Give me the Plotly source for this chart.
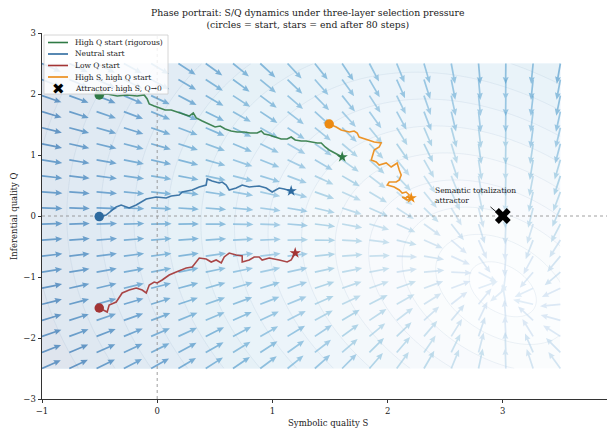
import numpy as np
import plotly.graph_objects as go

# ---------------- data ----------------
series_names = ["High Q start (rigorous)", "Neutral start", "Low Q start", "High S, high Q start"]
series_colors = ["#2f7a45", "#2d6a9f", "#a33434", "#ec8a12"]

green_S = [-0.503, -0.434, -0.347, -0.26, -0.174, -0.113, -0.087, -0.069, -0.026, 0.017, 0.069, 0.122,
           0.174, 0.234, 0.278, 0.313, 0.339, 0.391, 0.451, 0.503, 0.547, 0.590, 0.642, 0.694, 0.755,
           0.807, 0.868, 0.903, 0.929, 0.972, 1.024, 1.076, 1.128, 1.163, 1.198, 1.25, 1.293, 1.337,
           1.389, 1.424, 1.458, 1.493, 1.545, 1.606]
green_Q = [1.984, 2.0, 1.967, 1.984, 1.967, 1.984, 1.918, 1.836, 1.803, 1.770, 1.738, 1.738,
           1.705, 1.672, 1.639, 1.689, 1.607, 1.557, 1.508, 1.459, 1.475, 1.426, 1.393, 1.377, 1.377,
           1.361, 1.361, 1.393, 1.344, 1.328, 1.295, 1.262, 1.262, 1.295, 1.246, 1.230, 1.230, 1.213,
           1.197, 1.197, 1.131, 1.082, 1.033, 0.967]

blue_S = [-0.503, -0.443, -0.356, -0.313, -0.243, -0.182, -0.095, -0.009, 0.078, 0.122, 0.191, 0.217,
          0.304, 0.365, 0.425, 0.434, 0.477, 0.538, 0.564, 0.599, 0.625, 0.686, 0.738, 0.799, 0.885,
          0.946, 0.998, 1.059, 1.102, 1.163]
blue_Q = [-0.01, 0.016, 0.148, 0.18, 0.131, 0.18, 0.279, 0.311, 0.295, 0.328, 0.344, 0.393,
          0.426, 0.475, 0.508, 0.607, 0.574, 0.541, 0.557, 0.508, 0.426, 0.459, 0.508, 0.475, 0.492,
          0.459, 0.393, 0.459, 0.443, 0.41]

red_S = [-0.503, -0.434, -0.417, -0.356, -0.304, -0.243, -0.182, -0.130, -0.095, -0.069, -0.026, 0.0,
         0.043, 0.104, 0.165, 0.252, 0.304, 0.339, 0.365, 0.425, 0.469, 0.512, 0.556, 0.582, 0.625,
         0.686, 0.738, 0.738, 0.799, 0.842, 0.885, 0.911, 0.972, 1.059, 1.128, 1.163, 1.198]
red_Q = [-1.508, -1.574, -1.459, -1.41, -1.262, -1.213, -1.18, -1.213, -1.262, -1.131, -1.082, -1.098,
         -1.049, -0.967, -0.918, -0.852, -0.836, -0.754, -0.689, -0.705, -0.754, -0.721, -0.770, -0.672,
         -0.607, -0.639, -0.656, -0.754, -0.721, -0.672, -0.672, -0.721, -0.689, -0.721, -0.754, -0.721,
         -0.607]

orange_S = [1.493, 1.554, 1.597, 1.667, 1.710, 1.736, 1.753, 1.814, 1.884, 1.944, 1.927, 1.884, 1.866,
            1.858, 1.901, 1.927, 1.988, 2.031, 2.057, 2.083, 2.101, 2.118, 2.101, 2.075, 2.014, 1.997,
            2.057, 2.101, 2.127, 2.161, 2.188, 2.161, 2.127, 2.170, 2.205]
orange_Q = [1.508, 1.459, 1.41, 1.377, 1.393, 1.361, 1.295, 1.262, 1.213, 1.197, 1.131, 1.082, 0.967,
            0.918, 0.885, 0.836, 0.869, 0.803, 0.836, 0.869, 0.754, 0.672, 0.590, 0.557, 0.557, 0.508,
            0.475, 0.426, 0.377, 0.393, 0.344, 0.295, 0.311, 0.262, 0.295]

traj_S = [green_S, blue_S, red_S, orange_S]
traj_Q = [green_Q, blue_Q, red_Q, orange_Q]

attractor_S = [3.0]
attractor_Q = [0.0]
attractor_label = "Attractor: high S, Q\u21920"
annotation_text = "Semantic totalization<br>attractor"
title_text = ("Phase portrait: S/Q dynamics under three-layer selection pressure<br>"
              "(circles = start, stars = end after 80 steps)")
x_title = "Symbolic quality S"
y_title = "Inferential quality Q"

x_ticks = [-1, 0, 1, 2, 3]
y_ticks = [-3, -2, -1, 0, 1, 2, 3]

# vector field model (selection pressure toward high S)
S_grid = np.linspace(-1, 3.5, 20)
Q_grid = np.linspace(-2.5, 2.5, 20)
S_STAR = 3.0
Q_DRIFT = 0.075
Q_DAMP = 0.7


def field(S, Q):
    dS = S_STAR - S
    dQ = -Q_DAMP * (Q + Q_DRIFT * (S + 1) ** 2)
    return dS, dQ


# ---------------- layout geometry ----------------
# The page body has an 8px margin, so the figure is drawn 8px smaller and the
# pixel positions below are given in screenshot coordinates.
OFF = 8
W, H = 615 - OFF, 431 - OFF
PX0, PX1, PY0, PY1 = 42, 615, 33, 399          # plot area in screenshot pixels
ML, MR, MT, MB = PX0 - OFF, 615 - PX1, PY0 - OFF, 431 - PY1
PW, PH = PX1 - PX0, PY1 - PY0
X_RANGE = [-1, 3.974]
Y_RANGE = [-3, 3]
PXS = PW / (X_RANGE[1] - X_RANGE[0])
PYS = PH / (Y_RANGE[1] - Y_RANGE[0])


def px2paper(px, py):
    return (px - PX0) / PW, (PY1 - py) / PH


BLUES = [(0.0, (247, 251, 255)), (0.125, (222, 235, 247)), (0.25, (198, 219, 239)),
         (0.375, (158, 202, 225)), (0.5, (107, 174, 214)), (0.625, (66, 146, 198)),
         (0.75, (33, 113, 181)), (0.875, (8, 81, 156)), (1.0, (8, 48, 107))]


def blues(t):
    t = min(max(t, 0.0), 1.0)
    for (a, ca), (b, cb) in zip(BLUES[:-1], BLUES[1:]):
        if t <= b:
            f = (t - a) / (b - a)
            return tuple(ca[i] + f * (cb[i] - ca[i]) for i in range(3))
    return BLUES[-1][1]


FONT = "DejaVu Serif"
fig = go.Figure()

# background: speed magnitude
sf = np.linspace(-1, 3.5, 160)
qf = np.linspace(-2.5, 2.5, 160)
SS, QQ = np.meshgrid(sf, qf)
dSf, dQf = field(SS, QQ)
speed = np.hypot(dSf, dQf)
smax = speed.max()
BG_ALPHA = 0.13
cs = []
for i in range(11):
    t = i / 10
    c = blues(t)
    r, g, b = [255 * (1 - BG_ALPHA) + BG_ALPHA * c[k] for k in range(3)]
    cs.append([t, f"rgb({r:.0f},{g:.0f},{b:.0f})"])
fig.add_trace(go.Contour(x=sf, y=qf, z=speed, colorscale=cs, zmin=0, zmax=smax,
                         contours=dict(start=0, end=smax, size=smax / 15, coloring="fill"),
                         line=dict(width=0.6, color="rgba(120,150,190,0.2)"),
                         showscale=False, hoverinfo="skip"))

# quiver arrows (unit length in screen space, coloured by speed)
L, SW, HW, HL, HAL = 20.5, 1.7, 6.0, 7.0, 6.3
shape = [(0, -SW / 2), (L - HAL, -SW / 2), (L - HL, -HW / 2), (L, 0), (L - HL, HW / 2),
         (L - HAL, SW / 2), (0, SW / 2), (0, -SW / 2)]
NB = 14
bins = [([], []) for _ in range(NB)]
Sg, Qg = np.meshgrid(S_grid, Q_grid)
U, V = field(Sg, Qg)
M = np.hypot(U, V)
for s0, q0, u, v, m in zip(Sg.ravel(), Qg.ravel(), U.ravel(), V.ravel(), M.ravel()):
    th = np.arctan2(v, u)
    c, s = np.cos(th), np.sin(th)
    k = min(int(m / M.max() * NB), NB - 1)
    xs, ys = bins[k]
    for px, py in shape:
        rx, ry = px * c - py * s, px * s + py * c
        xs.append(s0 + rx / PXS)
        ys.append(q0 + ry / PYS)
    xs.append(None)
    ys.append(None)
for k, (xs, ys) in enumerate(bins):
    if not xs:
        continue
    t = (k + 0.5) / NB
    col = blues(0.18 + 0.66 * t)
    fig.add_trace(go.Scatter(x=xs, y=ys, mode="lines", fill="toself",
                             fillcolor=f"rgba({col[0]:.0f},{col[1]:.0f},{col[2]:.0f},0.6)",
                             line=dict(width=0), hoverinfo="skip", showlegend=False))

# reference dotted lines
fig.add_trace(go.Scatter(x=[0, 0], y=Y_RANGE, mode="lines",
                         line=dict(color="#888", width=0.8, dash="dot"), showlegend=False, hoverinfo="skip"))
fig.add_trace(go.Scatter(x=X_RANGE, y=[0, 0], mode="lines",
                         line=dict(color="#888", width=0.8, dash="dot"), showlegend=False, hoverinfo="skip"))

# trajectories
for name, col, xs, ys in zip(series_names, series_colors, traj_S, traj_Q):
    fig.add_trace(go.Scatter(x=xs, y=ys, mode="lines", name=name, showlegend=False,
                             line=dict(color=col, width=1.6), opacity=0.9))
for name, col, xs, ys in zip(series_names, series_colors, traj_S, traj_Q):
    fig.add_trace(go.Scatter(x=[xs[0]], y=[ys[0]], mode="markers", showlegend=False,
                             marker=dict(color=col, size=9.5, symbol="circle")))
    fig.add_trace(go.Scatter(x=[xs[-1]], y=[ys[-1]], mode="markers", showlegend=False,
                             marker=dict(color=col, size=8.5, symbol="star")))

fig.add_trace(go.Scatter(x=attractor_S, y=attractor_Q, mode="markers", name=attractor_label,
                         showlegend=False, marker=dict(color="black", size=14, symbol="x")))

fig.add_annotation(x=attractor_S[0] - 0.61, y=attractor_Q[0] + 0.33, text=annotation_text,
                   showarrow=False, xanchor="left", yanchor="middle", align="left",
                   font=dict(family=FONT, size=7.5, color="#222"))
fig.add_annotation(x=attractor_S[0] - 0.04, y=attractor_Q[0] + 0.04, ax=attractor_S[0] - 0.12,
                   ay=attractor_Q[0] + 0.17, axref="x", ayref="y", text="", showarrow=True,
                   arrowhead=0, arrowwidth=0.9, arrowcolor="#111")

# ---- manual compact legend (matplotlib style) ----
bx0, by0 = px2paper(44, 35)
bx1, by1 = px2paper(168, 94)
fig.add_shape(type="rect", xref="paper", yref="paper", x0=bx0, y0=by1, x1=bx1, y1=by0,
              line=dict(color="#cccccc", width=0.8), fillcolor="rgba(255,255,255,0.85)", layer="above")
entry_y = [42.5, 54, 65.5, 77, 88.5]
for name, col, ey in zip(series_names, series_colors, entry_y):
    lx0, ly = px2paper(48, ey)
    lx1, _ = px2paper(68, ey)
    fig.add_shape(type="line", xref="paper", yref="paper", x0=lx0, x1=lx1, y0=ly, y1=ly,
                  line=dict(color=col, width=1.6), layer="above")
    tx, _ = px2paper(73, ey)
    fig.add_annotation(xref="paper", yref="paper", x=tx, y=ly, text=name, showarrow=False,
                       xanchor="left", yanchor="middle", font=dict(family=FONT, size=7.5, color="#222"))
mx, my = px2paper(58, entry_y[4])
fig.add_annotation(xref="paper", yref="paper", x=mx, y=my, text="\u2716", showarrow=False,
                   xanchor="center", yanchor="middle", font=dict(family="DejaVu Sans", size=15, color="black"))
tx, _ = px2paper(73, entry_y[4])
fig.add_annotation(xref="paper", yref="paper", x=tx, y=my, text=attractor_label, showarrow=False,
                   xanchor="left", yanchor="middle", font=dict(family=FONT, size=7.5, color="#222"))

# titles
fig.add_annotation(xref="paper", yref="paper", x=(308 - PX0) / PW, y=(PY1 - 19) / PH, text=title_text,
                   showarrow=False, xanchor="center", yanchor="middle", align="center",
                   font=dict(family=FONT, size=9.3, color="#222"))
fig.add_annotation(xref="paper", yref="paper", x=(328 - PX0) / PW, y=(PY1 - 423) / PH, text=x_title,
                   showarrow=False, xanchor="center", yanchor="middle",
                   font=dict(family=FONT, size=8.5, color="#222"))
fig.add_annotation(xref="paper", yref="paper", x=(14 - PX0) / PW, y=0.5, text=y_title, textangle=-90,
                   showarrow=False, xanchor="center", yanchor="middle",
                   font=dict(family=FONT, size=8.5, color="#222"))

fig.update_layout(
    width=W, height=H, margin=dict(l=ML, r=MR, t=MT, b=MB, autoexpand=False),
    plot_bgcolor="white", paper_bgcolor="white",
    font=dict(family=FONT, size=8, color="#222"),
    showlegend=False,
)
fig.update_xaxes(range=X_RANGE, tickvals=x_ticks, ticktext=["\u22121", "0", "1", "2", "3"],
                 showline=True, linecolor="#333", linewidth=0.8, ticks="outside", ticklen=3.5,
                 tickcolor="#333", showgrid=False, zeroline=False, automargin=False,
                 tickfont=dict(size=8.5))
fig.update_yaxes(range=Y_RANGE, tickvals=y_ticks,
                 ticktext=["\u22123", "\u22122", "\u22121", "0", "1", "2", "3"],
                 showline=True, linecolor="#333", linewidth=0.8, ticks="outside", ticklen=3.5,
                 tickcolor="#333", showgrid=False, zeroline=False, automargin=False,
                 tickfont=dict(size=8.5))

fig.write_html("out.html")
